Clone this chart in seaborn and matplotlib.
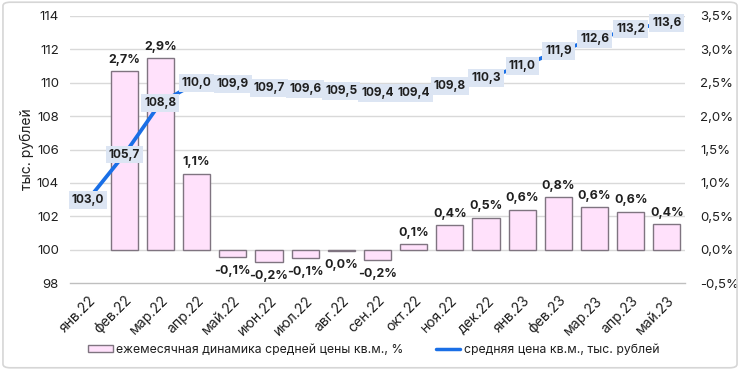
import matplotlib
matplotlib.use("Agg")
import matplotlib.pyplot as plt
import matplotlib.transforms as mtransforms
import seaborn as sns
import pandas as pd
import numpy as np
from matplotlib.patches import FancyBboxPatch, Patch
from matplotlib.lines import Line2D

months = ["янв.22", "фев.22", "мар.22", "апр.22", "май.22", "июн.22", "июл.22",
          "авг.22", "сен.22", "окт.22", "ноя.22", "дек.22", "янв.23", "фев.23",
          "мар.23", "апр.23", "май.23"]
price = [103.0, 105.7, 108.8, 110.0, 109.9, 109.7, 109.6, 109.5, 109.4, 109.4,
         109.8, 110.3, 111.0, 111.9, 112.6, 113.2, 113.6]
change = [np.nan, 2.68, 2.87, 1.14, -0.11, -0.18, -0.12, -0.02, -0.16, 0.09,
          0.37, 0.48, 0.60, 0.79, 0.64, 0.57, 0.38]

left_ticks = [98, 100, 102, 104, 106, 108, 110, 112, 114]
right_ticks = [-0.5, 0.0, 0.5, 1.0, 1.5, 2.0, 2.5, 3.0, 3.5]

bar_label = "ежемесячная динамика средней цены кв.м., %"
line_label = "средняя цена кв.м., тыс. рублей"
ylabel = "тыс. рублей"

bar_fill = "#ffe1fb"
bar_edge = "#7f7480"
line_color = "#1a6fe6"
box_color = "#dce5f3"
text_color = "#1f1f1f"
grid_color = "#d9d9d9"

sns.set_theme(style="white")
plt.rcParams['font.family'] = ['Inter', 'DejaVu Sans']

df = pd.DataFrame({"month": months, "price": price, "change": change,
                   "pos": np.arange(len(months))})

fig = plt.figure(figsize=(7.4, 3.7), dpi=100)
fig.patch.set_facecolor("white")
border = FancyBboxPatch((0.004, 0.006), 0.992, 0.988, transform=fig.transFigure,
                        boxstyle="round,pad=0,rounding_size=0.01",
                        fc="none", ec="#d6d6d6", lw=1.2)
fig.patches.append(border)

ax_bar = fig.add_axes([70/740, 1-283/370, (685-70)/740, (283-16)/370])
ax_line = ax_bar.twinx()

# bars (right axis)
sns.barplot(data=df, x="month", y="change", order=months, ax=ax_bar,
            color=bar_fill, edgecolor=bar_edge, linewidth=1.0, width=0.75,
            saturation=1, errorbar=None)
for p in ax_bar.patches:
    p.set_facecolor(bar_fill)
ax_bar.set_ylim(-0.5, 3.5)
ax_bar.set_xlim(-0.5, len(months) - 0.5)
ax_bar.yaxis.tick_right()
ax_bar.set_yticks(right_ticks)
ax_bar.set_yticklabels([f"{t:.1f}".replace(".", ",") + "%" for t in right_ticks],
                       fontsize=9.5, color=text_color)
ax_bar.tick_params(axis="y", length=0, pad=11)
ax_bar.set_xlabel("")
ax_bar.set_ylabel("")
ax_bar.set_xticks(np.arange(len(months)))
ax_bar.set_xticklabels(months, rotation=45, ha="right", va="center",
                       rotation_mode="anchor", fontsize=10, color=text_color)
ax_bar.tick_params(axis="x", which="major", length=0, pad=11)
shift = mtransforms.ScaledTranslation(4/72, 0, fig.dpi_scale_trans)
for lab in ax_bar.get_xticklabels():
    lab.set_transform(lab.get_transform() + shift)
ax_bar.set_xticks(np.arange(-0.5, len(months), 1.0), minor=True)
ax_bar.tick_params(axis="x", which="minor", length=4, width=1, color="#bfbfbf",
                   direction="out")
for s in ["top", "left", "right", "bottom"]:
    ax_bar.spines[s].set_visible(False)
ax_bar.grid(False)

for i, v in enumerate(change):
    if np.isnan(v):
        continue
    txt = f"{round(v, 1) + 0.0:.1f}".replace(".", ",") + "%"
    off = 8 if v >= 0 else -10
    ax_bar.annotate(txt, (i, v), xytext=(0, off), textcoords="offset points",
                    ha="center", va="center", fontsize=9, fontweight="bold",
                    color=text_color)

# line (left axis)
sns.lineplot(data=df, x="pos", y="price", ax=ax_line, color=line_color,
             linewidth=2.7, legend=False)
ax_line.set_ylim(98, 114)
ax_line.yaxis.tick_left()
ax_line.yaxis.set_label_position("left")
ax_line.set_yticks(left_ticks)
ax_line.set_yticklabels([str(t) for t in left_ticks], fontsize=9.5, color=text_color)
ax_line.tick_params(axis="y", length=0, pad=8)
ax_line.set_ylabel(ylabel, fontsize=10, color=text_color, labelpad=2)
ax_line.set_xlabel("")
for s in ["top", "left", "right"]:
    ax_line.spines[s].set_visible(False)
ax_line.spines["bottom"].set_color("#bfbfbf")
ax_line.spines["bottom"].set_linewidth(1)
ax_line.grid(False)
ax_line.tick_params(axis="x", which="both", length=0, labelbottom=False)

for i, v in enumerate(price):
    ax_line.text(i, v, f"{v:.1f}".replace(".", ","), ha="center", va="center",
                 fontsize=8.5, fontweight="bold", color=text_color,
                 bbox=dict(boxstyle="square,pad=0.25", fc=box_color, ec="none"))

# horizontal gridlines shared by both scales, drawn behind the bars
ax_bar.set_axisbelow(True)
for t in left_ticks[1:]:
    yv = -0.5 + (t - 98) / 16 * 4
    ax_bar.axhline(yv, color=grid_color, linewidth=1, zorder=0)

handles = [Patch(facecolor=bar_fill, edgecolor=bar_edge, linewidth=1.0),
           Line2D([0], [0], color=line_color, linewidth=2.5)]
fig.legend(handles, [bar_label, line_label], loc="center", ncol=2,
           bbox_to_anchor=(0.505, 1 - 350/370), frameon=False, fontsize=8.8,
           handlelength=2.0, handleheight=0.55, handletextpad=0.3,
           columnspacing=2.6, labelcolor=text_color)

fig.savefig("out.png", dpi=100)
